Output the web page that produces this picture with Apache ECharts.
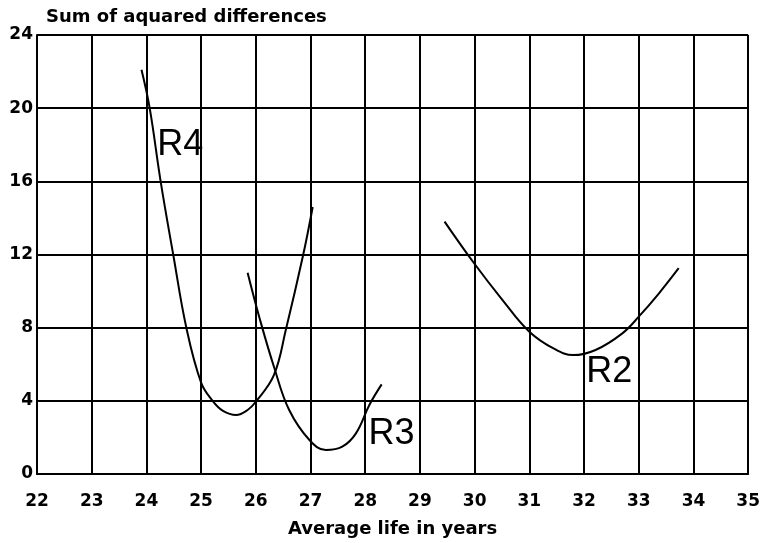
<!DOCTYPE html>
<html>
<head>
<meta charset="utf-8">
<script src="https://cdn.jsdelivr.net/npm/echarts@6/dist/echarts.min.js"></script>
<style>
  html, body { margin: 0; padding: 0; background: #fff; }
  #chart { width: 763px; height: 543px; }
</style>
</head>
<body>
<div id="chart"></div>
<script>
// Sum of squared differences against assumed average life, one curve per run
const r4Life = [23.91, 24.06, 24.26, 24.49, 24.73, 25.0, 25.21, 25.4, 25.64, 25.85, 26.0, 26.33, 26.55, 26.86, 27.04];
const r4Sum  = [22.1, 20.0, 16.0, 12.0, 8.0, 5.0, 4.0, 3.45, 3.23, 3.5, 3.95, 5.4, 7.9, 11.9, 14.6];

const r3Life = [25.85, 26.07, 26.34, 26.61, 26.98, 27.28, 27.58, 27.83, 28.08, 28.3];
const r3Sum  = [11.0, 8.5, 5.78, 3.5, 1.86, 1.31, 1.49, 2.22, 3.8, 4.9];

const r2Life = [29.45, 29.99, 30.51, 31.0, 31.45, 31.8, 32.21, 32.7, 33.0, 33.37, 33.73];
const r2Sum  = [13.8, 11.52, 9.51, 7.78, 6.85, 6.5, 6.78, 7.69, 8.6, 9.88, 11.25];

const curveNames = ['R4', 'R3', 'R2'];
const curveTagAt = [[24.62, 17.96], [28.48, 2.19], [32.46, 5.59]];

const xTicks = { min: 22, max: 35, step: 1 };
const yTicks = { min: 0, max: 24, step: 4 };

const zip = (a, b) => a.map((v, i) => [v, b[i]]);
const curves = [zip(r4Life, r4Sum), zip(r3Life, r3Sum), zip(r2Life, r2Sum)];

const ink = '#000';
const heavyFont = '"DejaVu Sans", "Liberation Sans", sans-serif';
const tagFont = '"Liberation Sans", Arial, sans-serif';

const chart = echarts.init(document.getElementById('chart'), null, { renderer: 'canvas' });

chart.setOption({
  backgroundColor: '#fff',
  animation: false,
  title: {
    text: 'Sum of aquared differences',
    left: 41, top: 3,
    textStyle: { fontFamily: heavyFont, fontWeight: 'bold', fontSize: 18, color: ink }
  },
  grid: { left: 37, right: 13, top: 35, bottom: 69 },
  xAxis: {
    type: 'value',
    min: xTicks.min, max: xTicks.max, interval: xTicks.step,
    name: 'Average life in years',
    nameLocation: 'middle', nameGap: 46,
    nameTextStyle: { fontFamily: heavyFont, fontWeight: 'bold', fontSize: 18, color: ink },
    axisLine: { lineStyle: { color: ink, width: 2 } },
    axisTick: { show: false },
    axisLabel: { margin: 19, fontFamily: heavyFont, fontWeight: 'bold', fontSize: 17, color: ink },
    splitLine: { show: true, lineStyle: { color: ink, width: 2 } }
  },
  yAxis: {
    type: 'value',
    min: yTicks.min, max: yTicks.max, interval: yTicks.step,
    axisLine: { show: true, lineStyle: { color: ink, width: 2 } },
    axisTick: { show: false },
    axisLabel: { margin: 4, fontFamily: heavyFont, fontWeight: 'bold', fontSize: 17, color: ink },
    splitLine: { show: true, lineStyle: { color: ink, width: 2 } }
  },
  series: curves.map((pts, i) => ({
    name: curveNames[i],
    type: 'line',
    smooth: 0.4,
    showSymbol: false,
    data: pts,
    lineStyle: { color: ink, width: 2 },
    markPoint: {
      symbol: 'circle', symbolSize: 1,
      itemStyle: { color: 'rgba(0,0,0,0)' },
      label: {
        show: true, formatter: curveNames[i], position: 'inside',
        fontFamily: tagFont, fontSize: 36, color: ink
      },
      data: [{ coord: curveTagAt[i] }]
    }
  }))
});
</script>
</body>
</html>
